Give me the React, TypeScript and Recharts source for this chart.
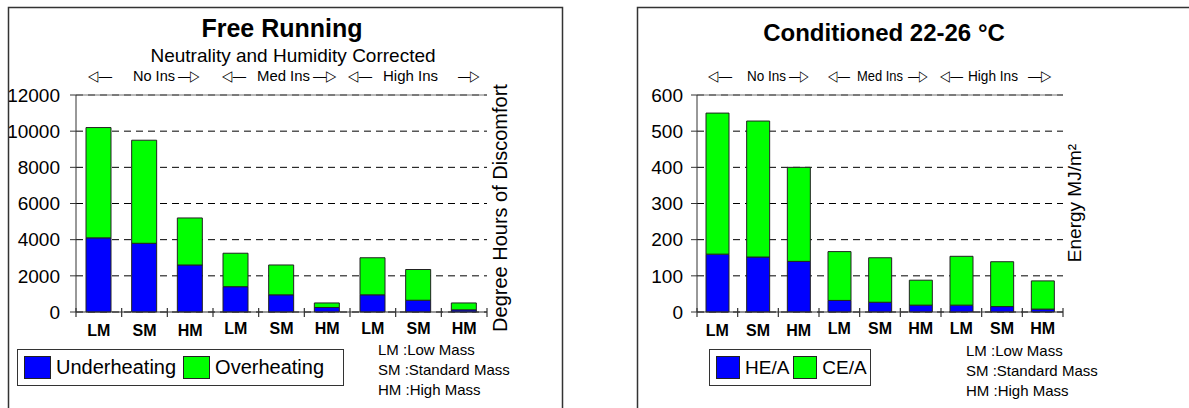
import React from "react";
import {
  Bar,
  BarChart,
  CartesianGrid,
  Legend,
  ReferenceLine,
  XAxis,
  YAxis,
} from "recharts";

const categories = ["LM", "SM", "HM", "LM", "SM", "HM", "LM", "SM", "HM"];
const underheating = [4100, 3800, 2600, 1400, 950, 250, 950, 650, 120];
const overheating = [6100, 5700, 2600, 1850, 1650, 250, 2050, 1700, 380];
const heatingEnergy = [160, 152, 140, 32, 27, 19, 19, 15, 8];
const coolingEnergy = [390, 376, 260, 135, 123, 69, 135, 124, 78];
const freeTicks = [0, 2000, 4000, 6000, 8000, 10000, 12000];
const condTicks = [0, 100, 200, 300, 400, 500, 600];
const massNotes = ["LM :Low Mass", "SM :Standard Mass", "HM :High Mass"];

const freeData = categories.map((c, i) => ({
  cat: c,
  under: underheating[i],
  over: overheating[i],
}));
const condData = categories.map((c, i) => ({
  cat: c,
  he: heatingEnergy[i],
  ce: coolingEnergy[i],
}));

const FONT = "'Liberation Sans', Arial, sans-serif";
const BLUE = "#0000ff";
const GREEN = "#00ff00";

// label under each bar plus the small crossing ticks at category boundaries
function makeCatTick(band: number) {
  return (props: any) => {
    const { x, y, payload, index, visibleTicksCount } = props;
    const half = band / 2;
    const last = index === (visibleTicksCount ?? 9) - 1;
    return (
      <g>
        <line x1={x - half} x2={x - half} y1={y - 4} y2={y + 5} stroke="#333" strokeWidth={1.2} />
        {last && (
          <line x1={x + half} x2={x + half} y1={y - 4} y2={y + 5} stroke="#333" strokeWidth={1.2} />
        )}
        <text
          x={x}
          y={y + (index < 3 ? 24 : 22)}
          textAnchor="middle"
          fontFamily={FONT}
          fontWeight="bold"
          fontSize={16}
          fill="#000"
        >
          {payload.value}
        </text>
      </g>
    );
  };
}

function legendBox(fontSize: number, gap: number, swW: number) {
  return (props: any) => {
    const items = props.payload || [];
    return (
      <div
        style={{
          border: "1px solid #333",
          background: "#fff",
          height: 37,
          boxSizing: "border-box",
          display: "flex",
          alignItems: "center",
          paddingLeft: 6,
          fontFamily: FONT,
          fontSize,
        }}
      >
        {items.map((it: any, i: number) => (
          <div key={i} style={{ display: "flex", alignItems: "center", marginRight: gap }}>
            <div
              style={{
                width: swW,
                height: 23,
                background: it.color,
                border: "1px solid #222",
                boxSizing: "border-box",
                marginRight: 5,
              }}
            />
            <span>{it.value}</span>
          </div>
        ))}
      </div>
    );
  };
}

const lowerFirst = (item: any) =>
  item.dataKey === "under" || item.dataKey === "he" ? 0 : 1;

const tickStyle = { fontSize: 19, fill: "#000", fontFamily: FONT };

function GroupLabels({ items }: { items: [string, number, number][] }) {
  return (
    <g fontSize={15}>
      {items.map(([t, x, w], i) => (
        <text key={i} x={x} y={81} textLength={w} lengthAdjust="spacingAndGlyphs">
          {t}
        </text>
      ))}
    </g>
  );
}

export default function App() {
  return (
    <div
      style={{
        position: "absolute",
        left: 0,
        top: 0,
        width: 1189,
        height: 408,
        overflow: "hidden",
        background: "#fff",
        fontFamily: FONT,
      }}
    >
      <div style={{ position: "absolute", left: 0, top: 0 }}>
        <BarChart
          width={562}
          height={408}
          data={freeData}
          margin={{ top: 95, right: 75, bottom: 95, left: 16 }}
          barSize={25}
        >
          <CartesianGrid vertical={false} stroke="#000" strokeDasharray="7 5" />
          <XAxis dataKey="cat" interval={0} height={1} tickSize={0} tickMargin={0} tickLine={false}
            axisLine={{ stroke: "#333" }} tick={makeCatTick(411 / 9)} />
          <YAxis domain={[0, 12000]} ticks={freeTicks} interval={0} width={60} tickSize={6} tickMargin={10}
            axisLine={{ stroke: "#333" }} tickLine={{ stroke: "#333" }} tick={tickStyle} />
          <YAxis yAxisId="frame" orientation="right" width={0} domain={[0, 12000]} tick={false}
            tickLine={false} axisLine={{ stroke: "#777" }} />
          <ReferenceLine y={12000} stroke="#777" strokeDasharray="0" />
          <Legend layout="horizontal" verticalAlign="middle" align="center" itemSorter={lowerFirst}
            content={legendBox(20, 7, 27)}
            wrapperStyle={{ position: "absolute", left: 17, top: 349, width: 327, height: 37 }} />
          <Bar dataKey="under" name="Underheating" stackId="a" fill={BLUE} stroke="#222" isAnimationActive={false} />
          <Bar dataKey="over" name="Overheating" stackId="a" fill={GREEN} stroke="#222" isAnimationActive={false} />
        </BarChart>
      </div>

      <div style={{ position: "absolute", left: 600, top: 0 }}>
        <BarChart
          width={589}
          height={408}
          data={condData}
          margin={{ top: 95, right: 126, bottom: 95, left: 37 }}
          barSize={23}
        >
          <CartesianGrid vertical={false} stroke="#000" strokeDasharray="7 5" />
          <XAxis dataKey="cat" interval={0} height={1} tickSize={0} tickMargin={0} tickLine={false}
            axisLine={{ stroke: "#333" }} tick={makeCatTick(366 / 9)} />
          <YAxis domain={[0, 600]} ticks={condTicks} interval={0} width={60} tickSize={6} tickMargin={8}
            axisLine={{ stroke: "#333" }} tickLine={{ stroke: "#333" }} tick={tickStyle} />
          <YAxis yAxisId="frame" orientation="right" width={0} domain={[0, 600]} tick={false}
            tickLine={false} axisLine={{ stroke: "#777" }} />
          <ReferenceLine y={600} stroke="#777" strokeDasharray="0" />
          <Legend layout="horizontal" verticalAlign="middle" align="center" itemSorter={lowerFirst}
            content={legendBox(19, 4, 24)}
            wrapperStyle={{ position: "absolute", left: 109, top: 349, width: 162, height: 37 }} />
          <Bar dataKey="he" name="HE/A" stackId="a" fill={BLUE} stroke="#222" isAnimationActive={false} />
          <Bar dataKey="ce" name="CE/A" stackId="a" fill={GREEN} stroke="#222" isAnimationActive={false} />
        </BarChart>
      </div>

      <svg
        width={1189}
        height={408}
        style={{ position: "absolute", left: 0, top: 0, pointerEvents: "none" }}
        fontFamily={FONT}
      >
        {/* panel frames */}
        <polyline points="8.5,420 8.5,7.5 562.5,7.5 562.5,420" fill="none" stroke="#333" strokeWidth={1.5} />
        <polyline points="637.5,420 637.5,7.5 1189,7.5" fill="none" stroke="#333" strokeWidth={1.5} />

        <text x={282} y={37} textAnchor="middle" fontSize={25} fontWeight="bold">Free Running</text>
        <text x={293} y={62} textAnchor="middle" fontSize={19}>Neutrality and Humidity Corrected</text>
        <text x={884} y={41} textAnchor="middle" fontSize={24} fontWeight="bold">Conditioned 22-26 °C</text>

        <GroupLabels
          items={[
            ["◁—", 88, 24], ["No Ins", 133, 42], ["—▷", 178, 22],
            ["◁—", 222, 24], ["Med Ins", 257, 53], ["—▷", 313, 24],
            ["◁—", 348, 24], ["High Ins", 383, 55], ["—▷", 458, 22],
            ["◁—", 708, 24], ["No Ins", 747, 39], ["—▷", 789, 20],
            ["◁—", 828, 22], ["Med Ins", 857, 46], ["—▷", 908, 20],
            ["◁—", 940, 23], ["High Ins", 968, 50], ["—▷", 1028, 24],
          ]}
        />

        <text transform="translate(507,208) rotate(-90)" textAnchor="middle" fontSize={20}>
          Degree Hours of Discomfort
        </text>
        <text transform="translate(1081,203) rotate(-90)" textAnchor="middle" fontSize={19}>
          Energy MJ/m²
        </text>

        <g fontSize={15}>
          {massNotes.map((n, i) => (
            <text key={"l" + i} x={378} y={355 + i * 20}>{n}</text>
          ))}
          {massNotes.map((n, i) => (
            <text key={"r" + i} x={966} y={356 + i * 20}>{n}</text>
          ))}
        </g>
      </svg>
    </div>
  );
}
